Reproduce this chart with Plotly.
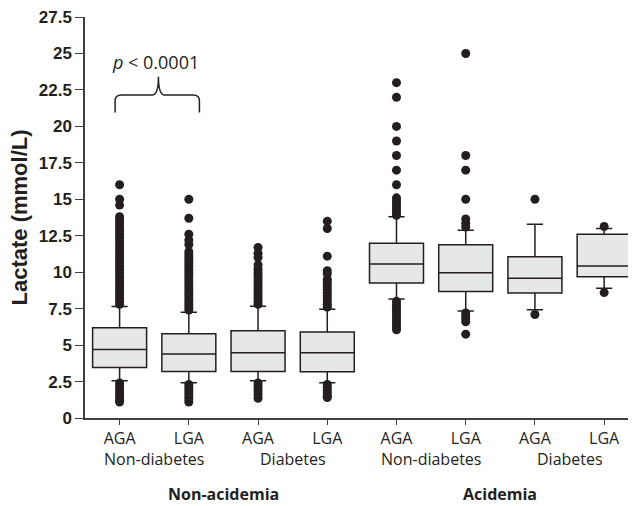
import plotly.graph_objects as go

# ---- data ----
groups = ["AGA", "LGA", "AGA", "LGA", "AGA", "LGA", "AGA", "LGA"]
diabetes_labels = ["Non-diabetes", "Diabetes", "Non-diabetes", "Diabetes"]
acidemia_labels = ["Non-acidemia", "Acidemia"]

q1 = [3.46, 3.19, 3.19, 3.17, 9.26, 8.67, 8.58, 9.69]
median = [4.69, 4.39, 4.48, 4.48, 10.56, 9.97, 9.58, 10.42]
q3 = [6.19, 5.78, 5.98, 5.90, 11.99, 11.88, 11.06, 12.60]
lowerfence = [2.55, 2.41, 2.55, 2.41, 8.17, 7.33, 7.42, 8.90]
upperfence = [7.65, 7.26, 7.67, 7.45, 13.81, 12.88, 13.29, 12.99]

outliers_high = [
    [7.8, 8.0, 8.2, 8.4, 8.6, 8.8, 9.0, 9.2, 9.4, 9.6, 9.8, 10.0, 10.2, 10.4,
     10.6, 10.8, 11.0, 11.2, 11.4, 11.6, 11.8, 12.0, 12.2, 12.4, 12.6, 12.8,
     13.0, 13.2, 13.4, 13.6, 13.8, 14.6, 15.0, 16.0],
    [7.4, 7.6, 7.8, 8.0, 8.2, 8.4, 8.6, 8.8, 9.0, 9.2, 9.4, 9.6, 9.8, 10.0,
     10.2, 10.4, 10.6, 10.8, 11.0, 11.2, 11.4, 11.9, 12.2, 12.6, 13.7, 15.0],
    [7.8, 8.0, 8.2, 8.4, 8.6, 8.8, 9.0, 9.2, 9.4, 9.6, 9.8, 10.0, 10.2, 10.5,
     11.0, 11.3, 11.7],
    [7.6, 7.8, 8.0, 8.2, 8.4, 8.6, 8.8, 9.0, 9.2, 9.4, 9.5, 9.9, 10.1, 11.1,
     13.0, 13.5],
    [13.9, 14.1, 14.3, 14.5, 14.7, 14.9, 15.1, 16.0, 17.0, 18.0, 19.0, 20.0,
     22.0, 23.0],
    [13.1, 13.35, 13.65, 15.0, 17.0, 18.0, 25.0],
    [15.0],
    [13.13],
]
outliers_low = [
    [2.4, 2.2, 2.0, 1.8, 1.6, 1.4, 1.2, 1.1],
    [2.3, 2.1, 1.9, 1.7, 1.5, 1.3, 1.1],
    [2.4, 2.2, 2.0, 1.8, 1.6, 1.35],
    [2.3, 2.1, 1.9, 1.7, 1.5, 1.4],
    [8.0, 7.8, 7.6, 7.4, 7.2, 7.0, 6.8, 6.6, 6.4, 6.2, 6.05],
    [7.2, 7.0, 6.8, 6.6, 5.75],
    [7.1],
    [8.6],
]

y_ticks = [0, 2.5, 5, 7.5, 10, 12.5, 15, 17.5, 20, 22.5, 25, 27.5]
p_text = "<i>p</i> < 0.0001"

# brace geometry (data units)
brace_x0, brace_x1, brace_xm = -0.065, 1.153, 0.561
brace_y0, brace_yh, brace_ytip = 20.96, 22.16, 23.41
p_text_y = 24.4

# ---- figure ----
positions = list(range(len(groups)))
fig = go.Figure()

fig.add_trace(go.Box(
    x=positions, q1=q1, median=median, q3=q3,
    lowerfence=lowerfence, upperfence=upperfence,
    width=0.78, whiskerwidth=0.3,
    fillcolor="#e6e7e8",
    line=dict(color="#231f20", width=1.5),
    boxpoints=False, showlegend=False, hoverinfo="skip",
))

ox, oy = [], []
for i in positions:
    for v in outliers_high[i] + outliers_low[i]:
        ox.append(i)
        oy.append(v)
fig.add_trace(go.Scatter(
    x=ox, y=oy, mode="markers",
    marker=dict(color="#231f20", size=9),
    showlegend=False, hoverinfo="skip",
))

dx, dy = 0.09, 0.4
path = (f"M {brace_x0},{brace_y0} L {brace_x0},{brace_yh - dy} "
        f"Q {brace_x0},{brace_yh} {brace_x0 + dx},{brace_yh} "
        f"L {brace_xm - dx},{brace_yh} "
        f"Q {brace_xm},{brace_yh} {brace_xm},{brace_ytip} "
        f"Q {brace_xm},{brace_yh} {brace_xm + dx},{brace_yh} "
        f"L {brace_x1 - dx},{brace_yh} "
        f"Q {brace_x1},{brace_yh} {brace_x1},{brace_yh - dy} "
        f"L {brace_x1},{brace_y0}")
fig.add_shape(type="path", path=path, xref="x", yref="y",
              line=dict(color="#231f20", width=1.5))

fig.add_annotation(x=brace_xm - 0.04, y=p_text_y, xref="x", yref="y",
                   text=p_text, showarrow=False,
                   font=dict(family="Open Sans", size=18, color="#231f20"))

label_font = dict(family="Open Sans", size=16, color="#231f20")
for k, lab in enumerate(diabetes_labels):
    fig.add_annotation(x=2 * k + 0.5, y=0, xref="x", yref="paper",
                       yshift=-41, text=lab, showarrow=False,
                       yanchor="middle", font=label_font)
for k, lab in enumerate(acidemia_labels):
    fig.add_annotation(x=4 * k + 1.5, y=0, xref="x", yref="paper",
                       yshift=-76, text=f"<b>{lab}</b>", showarrow=False,
                       yanchor="middle", borderpad=0,
                       font=dict(family="Open Sans", size=16, color="#231f20"))

fig.add_annotation(x=0, y=0.5, xref="paper", yref="paper", xshift=-66,
                   text="<b>Lactate (mmol/L)</b>", textangle=-90,
                   showarrow=False, xanchor="center",
                   font=dict(family="Liberation Sans, Arial", size=22,
                             color="#231f20"))

# page body has an 8px margin; the figure is sized so that the page is 636x506
fig.update_layout(
    width=628, height=498,
    margin=dict(l=77, r=0, t=7, b=88),
    paper_bgcolor="white", plot_bgcolor="white",
    xaxis=dict(
        range=[-0.5, 7.46], tickmode="array", tickvals=positions,
        ticktext=groups, showgrid=False, zeroline=False,
        showline=True, linecolor="#404040", linewidth=1.5,
        ticks="outside", ticklen=5, tickcolor="#404040",
        tickfont=label_font,
    ),
    yaxis=dict(
        range=[0, 27.502], tickmode="array", tickvals=y_ticks,
        ticktext=[f"<b>{t:g}</b>" for t in y_ticks],
        ticklabeloverflow="allow",
        showgrid=False, zeroline=False,
        showline=True, linecolor="#404040", linewidth=1.5,
        ticks="outside", ticklen=8, tickcolor="#404040",
        tickfont=dict(family="Liberation Sans, Arial", size=17,
                      color="#231f20"),
    ),
)

fig.write_html("out.html")
